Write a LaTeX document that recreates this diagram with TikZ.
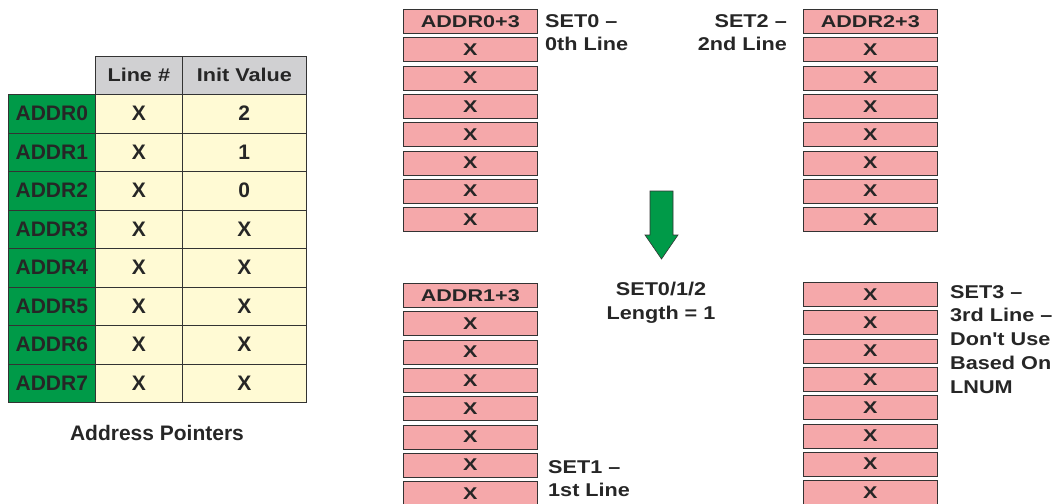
\documentclass[tikz,border=0pt]{standalone}
\usepackage{fontspec}
\setmainfont{Liberation Sans}
\newfontfamily\memfont[FakeStretch=1.27]{Liberation Sans}
\newfontfamily\lblfont[FakeStretch=1.17]{Liberation Sans}
\begin{document}
\begin{tikzpicture}[x=1pt,y=-1pt,
  every node/.style={text=black!85},
  tfont/.style={font=\bfseries\fontsize{21}{24}\selectfont},
  hfont/.style={font=\lblfont\bfseries\fontsize{18.5}{24}\selectfont},
  mfont/.style={font=\memfont\bfseries\fontsize{17}{24}\selectfont},
  lfont/.style={font=\lblfont\bfseries\fontsize{18.5}{23.8}\selectfont},
  cellbox/.style={draw=black!80, line width=0.6pt, minimum width=#1, minimum height=38.5pt, inner sep=0pt, anchor=north west, tfont},
  namecell/.style={cellbox=87pt, fill=tgreen},
  hdrcell/.style={cellbox=#1, fill=thdr, hfont},
  valcell/.style={cellbox=#1, fill=tyellow},
  memcell/.style={draw=black!80, line width=0.6pt, fill=tpink, minimum width=134pt, minimum height=24pt, inner sep=0pt, anchor=north west, mfont},
  lbl/.style={inner sep=0pt, align=left, anchor=north west, lfont},
]
\definecolor{tgreen}{RGB}{0,154,72}
\definecolor{thdr}{RGB}{208,208,210}
\definecolor{tyellow}{RGB}{255,250,212}
\definecolor{tpink}{RGB}{245,168,170}
\useasboundingbox (0,0) rectangle (1054,503);
% table header
\node[hdrcell=87pt, minimum height=38pt] (hline) at (95,56) {Line \#};
\node[hdrcell=124pt, minimum height=38pt] (hinit) at (182,56) {Init Value};
% table rows
\foreach \i/\v in {0/2,1/1,2/0,3/X,4/X,5/X,6/X,7/X}{
  \node[namecell] (a\i) at (8,{94+\i*38.5}) {ADDR\i};
  \node[valcell=87pt] (l\i) at (95,{94+\i*38.5}) {X};
  \node[valcell=124pt] (v\i) at (182,{94+\i*38.5}) {\v};
}
\node[inner sep=0pt, tfont] (cap) at (157,433) {Address Pointers};
% memory columns
\node[memcell] (tl0) at (403,9) {ADDR0+3};
\foreach \i in {1,...,7}{\node[memcell] (tl\i) at (403,{9+\i*28.3}) {X};}
\node[memcell] (tr0) at (803,9) {ADDR2+3};
\foreach \i in {1,...,7}{\node[memcell] (tr\i) at (803,{9+\i*28.3}) {X};}
\node[memcell] (bl0) at (403,283) {ADDR1+3};
\foreach \i in {1,...,7}{\node[memcell] (bl\i) at (403,{283+\i*28.3}) {X};}
\foreach \i in {0,...,7}{\node[memcell] (br\i) at (803,{282+\i*28.3}) {X};}
% labels
\node[lbl] (s0) at (545,14) {SET0 –\\0th Line};
\node[lbl, align=right, anchor=north east] (s2) at (787,14) {SET2 –\\2nd Line};
\node[lbl] (s1) at (548,460) {SET1 –\\1st Line};
\node[lbl] (s3) at (950,285) {SET3 –\\3rd Line –\\Don't Use\\Based On\\LNUM};
\node[lbl, align=center, anchor=north] (len) at (661,282) {SET0/1/2\\Length = 1};
% arrow
\draw[draw=black!80, line width=0.6pt, fill=tgreen] (650,191) -- (673,191) -- (673,235) -- (678,235) -- (661.5,259) -- (645,235) -- (650,235) -- cycle;
\end{tikzpicture}
\end{document}
